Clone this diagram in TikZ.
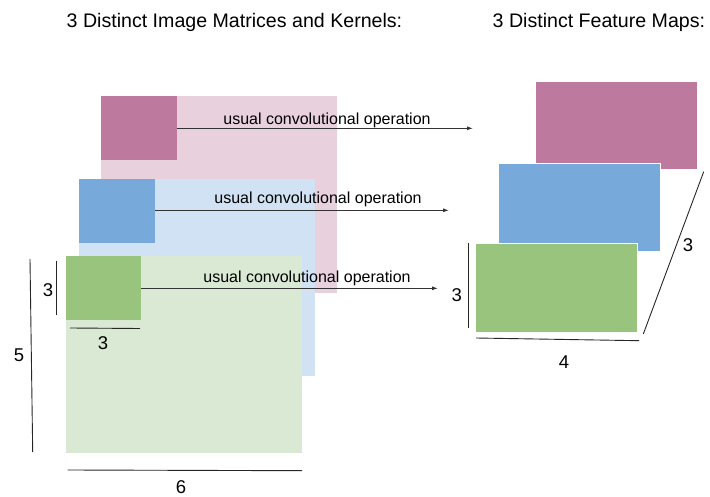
\documentclass[tikz,border=0pt]{standalone}
\usepackage{fontspec}
\setmainfont{Liberation Sans}
\usetikzlibrary{arrows.meta, positioning}
\definecolor{magdark}{HTML}{BE7A9E}
\definecolor{maglight}{HTML}{E8D0DD}
\definecolor{bluedark}{HTML}{78A9DB}
\definecolor{bluelight}{HTML}{D0E2F3}
\definecolor{grndark}{HTML}{98C47E}
\definecolor{grnlight}{HTML}{DAE9D4}

\tikzset{
  block/.style={rectangle, anchor=north west, inner sep=0pt, outer sep=0pt},
  convarrow/.style={-{Latex[length=6pt, width=4pt]}, line width=0.9pt, black!80},
  dimline/.style={line width=0.9pt, black!85},
  convlabel/.style={anchor=base, font=\fontsize{16}{18}\selectfont},
  dimlabel/.style={font=\fontsize{18.5}{20}\selectfont}
}

\begin{document}
\begin{tikzpicture}[x=1pt, y=-1pt]
    \useasboundingbox (0,0) rectangle (710,497);
    % titles
    \node[anchor=base west, inner sep=0pt, font=\fontsize{19.6}{22}\selectfont] (ttlImg) at (66.5,27.3) {3 Distinct Image Matrices and Kernels:};
    \node[anchor=base west, inner sep=0pt, font=\fontsize{19.6}{22}\selectfont] (ttlMap) at (492.5,27.3) {3 Distinct Feature Maps:};

    % image matrices (back to front)
    \node[block, fill=maglight, minimum width=236pt, minimum height=197pt] (imgM) at (101,96) {};
    \node[block, fill=bluelight, minimum width=236pt, minimum height=197pt] (imgB) at (79,179) {};
    \node[block, fill=grnlight, minimum width=236pt, minimum height=197pt] (imgG) at (66,256) {};
    % kernels
    \node[block, fill=magdark, minimum width=76pt, minimum height=64pt] (kerM) at (101,96) {};
    \node[block, fill=bluedark, minimum width=76pt, minimum height=64pt] (kerB) at (79,179) {};
    \node[block, fill=grndark, minimum width=75pt, minimum height=64.5pt] (kerG) at (66,256) {};

    % feature maps
    \node[block, fill=magdark, draw=white, line width=0.6pt, minimum width=162pt, minimum height=88pt] (mapM) at (535,81) {};
    \node[block, fill=bluedark, draw=white, line width=0.6pt, minimum width=162pt, minimum height=88.5pt] (mapB) at (498,163) {};
    \node[block, fill=grndark, draw=white, line width=0.6pt, minimum width=162.5pt, minimum height=89pt] (mapG) at (475,243) {};

    % convolution arrows
    \coordinate (endM) at (473,128.3);
    \coordinate (endB) at (449,210.3);
    \coordinate (endG) at (438,288.3);
    \draw[convarrow] (kerM.east |- endM) -- (endM);
    \draw[convarrow] (kerB.east |- endB) -- (endB);
    \draw[convarrow] (kerG.east |- endG) -- (endG);
    \node[convlabel] (lblM) at (327,124.8) {usual convolutional operation};
    \node[convlabel] (lblB) at (318,203.3) {usual convolutional operation};
    \node[convlabel] (lblG) at (307,282.3) {usual convolutional operation};

    % dimensions of the images and kernels
    \coordinate (k3a) at (56.7,260.7); \coordinate (k3b) at (56.7,315);
    \coordinate (k3c) at (70,328); \coordinate (k3d) at (140,328.5);
    \coordinate (i5a) at (30,259); \coordinate (i5b) at (32.7,452);
    \coordinate (i6a) at (67.7,470); \coordinate (i6b) at (302,470.7);
    \draw[dimline] (k3a) -- (k3b);
    \draw[dimline] (k3c) -- (k3d);
    \draw[dimline] (i5a) -- (i5b);
    \draw[dimline] (i6a) -- (i6b);
    \node[dimlabel] (n3a) at (48,290) {3};
    \node[dimlabel] (n3b) at (103,343.5) {3};
    \node[dimlabel] (n5) at (19,355) {5};
    \node[dimlabel] (n6) at (181,487) {6};

    % dimensions of the feature maps
    \coordinate (m3a) at (468.3,242.7); \coordinate (m3b) at (468.3,327.7);
    \coordinate (m4a) at (476,338); \coordinate (m4b) at (639,340.7);
    \coordinate (d3a) at (643.3,334); \coordinate (d3b) at (703.7,171.7);
    \draw[dimline] (m3a) -- (m3b);
    \draw[dimline] (m4a) -- (m4b);
    \draw[dimline] (d3a) -- (d3b);
    \node[dimlabel] (n3c) at (456.7,295) {3};
    \node[dimlabel] (n4) at (564,361.7) {4};
    \node[dimlabel] (n3d) at (688,245) {3};
\end{tikzpicture}
\end{document}
